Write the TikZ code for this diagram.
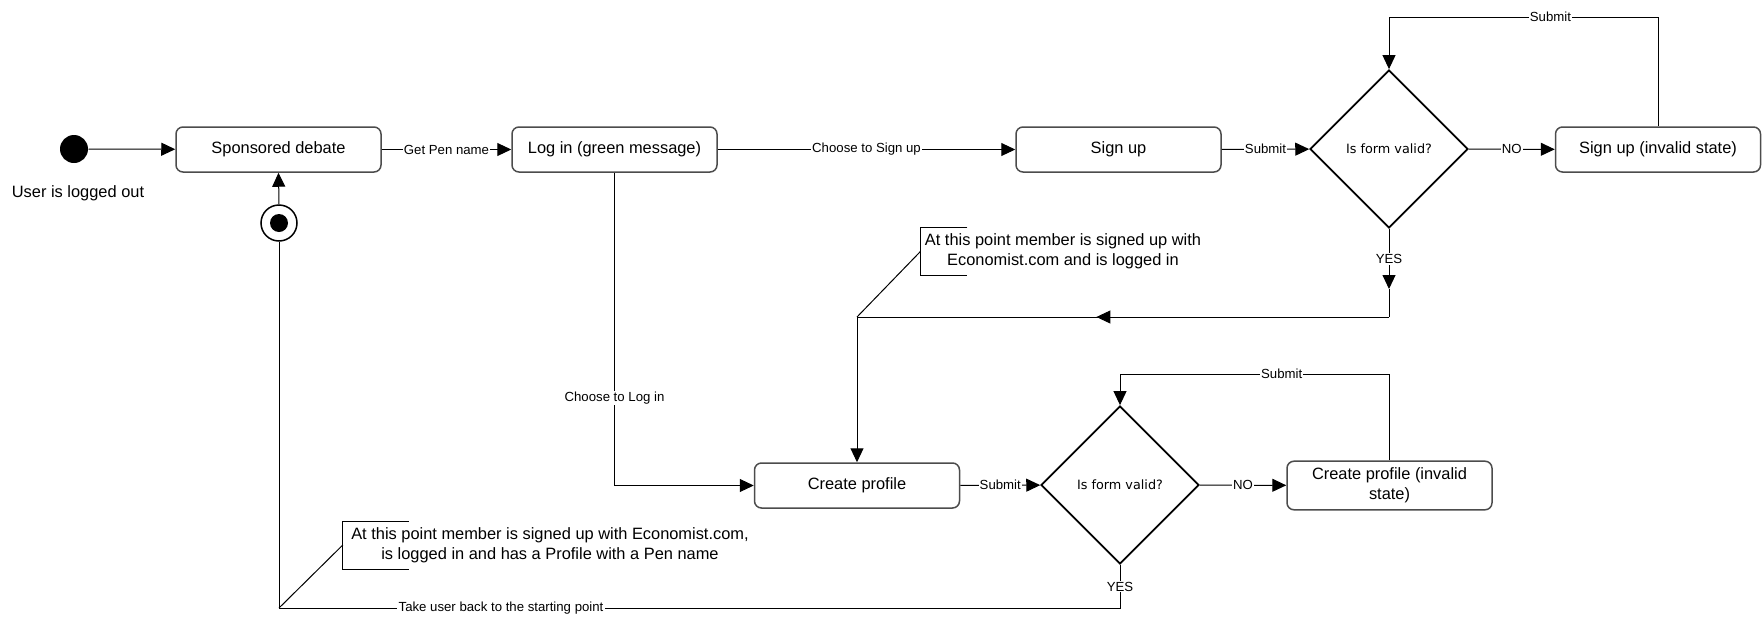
\documentclass[tikz,border=0pt]{standalone}
\usepackage{fontspec}
\setmainfont{Liberation Sans}
\newfontfamily\diafont{DejaVu Sans}
\usetikzlibrary{arrows.meta,shapes.geometric,decorations.markings}

\begin{document}
\begin{tikzpicture}[x=0.5pt, y=-0.5pt, line width=0.5pt,
        arrow/.style={-{Triangle[length=7pt, width=6.5pt]}},
        midarrow/.style={postaction={decorate}, decoration={markings, mark=at position #1 with {\arrow{Triangle[length=7pt, width=6.5pt]}}}},
        statebox/.style={draw=black!70, line width=0.75pt, rounded corners=3.5pt, minimum width=102.5pt, minimum height=22.5pt, align=center, font=\fontsize{8.2}{10}\selectfont},
        decision/.style={diamond, draw, line width=0.9pt, inner sep=0pt, minimum size=79pt, font=\diafont\fontsize{6.4}{8}\selectfont},
        elabel/.style={fill=white, inner sep=0.6pt, font=\fontsize{6.6}{8}\selectfont},
        notetext/.style={inner xsep=2pt, inner ysep=0pt, minimum height=23.5pt, align=center, font=\fontsize{8.2}{10}\selectfont}]

        \useasboundingbox (0,0) rectangle (1762,616);

        % states
        \node[circle, fill=black, inner sep=0pt, minimum size=14pt] (init) at (74,149) {};
        \node[font=\fontsize{8.2}{10}\selectfont] (initlabel) at (78,193) {User is logged out};
        \node[statebox] (sponsored) at (278.5,149.5) {Sponsored debate};
        \node[statebox] (login) at (614.5,149.5) {Log in (green message)};
        \node[statebox] (signup) at (1118.5,149.5) {Sign up};
        \node[decision] (valid1) at (1389,149) {Is form valid?};
        \node[statebox] (signupinv) at (1658,149.5) {Sign up (invalid state)};
        \node[statebox] (create) at (857,485.5) {Create profile};
        \node[decision] (valid2) at (1120,485) {Is form valid?};
        \node[statebox] (createinv) at (1389.5,485.5) {Create profile (invalid\\state)};
        \node[circle, draw, line width=0.75pt, inner sep=0pt, minimum size=18pt] (fin) at (279,223) {};
        \fill (fin.center) circle (4.5pt);

        % notes
        \node[notetext] (note1) at (1063,251.5) {At this point member is signed up with\\Economist.com and is logged in};
        \draw ([xshift=23.5pt]note1.north west) -- (note1.north west) -- (note1.south west) -- ([xshift=23.5pt]note1.south west);
        \node[notetext, inner xsep=4pt] (note2) at (550,545) {At this point member is signed up with Economist.com,\\is logged in and has a Profile with a Pen name};
        \draw ([xshift=33pt]note2.north west) -- (note2.north west) -- (note2.south west) -- ([xshift=33pt]note2.south west);

        % junctions
        \coordinate (yes1) at (1389,289);
        \coordinate (j1) at (1389,317);
        \coordinate (j2) at (857,317);
        \coordinate (j3) at (1120,608);
        \coordinate (j4) at (279,608);

        % transitions
        \draw[arrow] (init) -- (sponsored);
        \draw[arrow] (sponsored) -- node[elabel] {Get Pen name} (login);
        \draw[arrow] (login) -- node[elabel] {Choose to Sign up} (signup);
        \draw[arrow] (signup) -- node[elabel] {Submit} (valid1);
        \draw[arrow] (valid1) -- node[elabel] {NO} (signupinv);
        \draw[arrow] (signupinv.north) -- (signupinv.north |- 0,17) -- node[elabel, pos=0.4] {Submit} (valid1.north |- 0,17) -- (valid1.north);
        \draw[arrow] (valid1.south) -- node[elabel] {YES} (yes1);
        \draw (yes1) -- (j1);
        \draw[midarrow=0.55] (j1) -- (j2);
        \draw[arrow] (j2) -- (create.north);
        \draw (j2) -- (note1.west);
        \draw[arrow] (login.south) |- node[elabel, pos=0.36] {Choose to Log in} (create.west);
        \draw[arrow] (create) -- node[elabel] {Submit} (valid2);
        \draw[arrow] (valid2) -- node[elabel] {NO} (createinv);
        \draw[arrow] (createinv.north) -- (createinv.north |- 0,374) -- node[elabel, pos=0.4] {Submit} (valid2.north |- 0,374) -- (valid2.north);
        \draw (valid2.south) -- node[elabel] {YES} (j3) -- node[elabel, pos=0.736] {Take user back to the starting point} (j4) -- (fin.south);
        \draw (j4) -- (note2.west);
        \draw[arrow] (fin.north) -- (sponsored.south);
    \end{tikzpicture}
\end{document}
